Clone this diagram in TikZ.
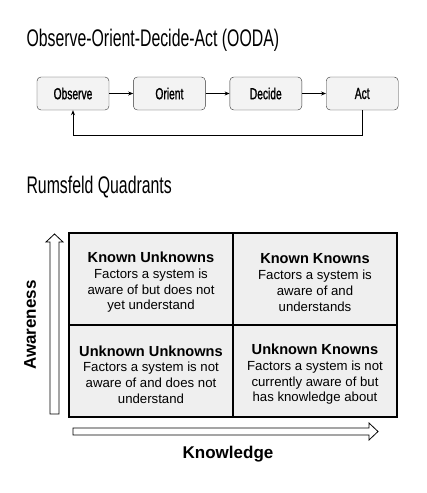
\documentclass[tikz,border=0pt]{standalone}
\usepackage{fontspec}
\setmainfont{Liberation Sans}
\newfontfamily\headfont[FakeStretch=0.66]{Liberation Sans}
\newfontfamily\stagefont[FakeStretch=0.64,FakeBold=1.2]{Liberation Sans}
\newcommand{\cellhead}[1]{\textbf{\fontsize{14.6}{15.6}\selectfont #1}}
\usetikzlibrary{positioning,arrows.meta}
\definecolor{boxgray}{HTML}{F3F3F3}
\definecolor{cellgray}{HTML}{EFEFEF}

\begin{document}
\begin{tikzpicture}[x=1pt,y=-1pt,
  stage/.style={draw=black!80,fill=boxgray,rounded corners=4pt,
    minimum width=72pt,minimum height=33pt,
    font=\stagefont\fontsize{16}{18}\selectfont},
  cell/.style={draw,line width=1.1pt,fill=cellgray,
    minimum width=164pt,minimum height=92pt},
  celltext/.style={align=center,yshift=-3.5pt,font=\fontsize{13.2}{15.7}\selectfont},
  flow/.style={-{Stealth[length=5pt,width=4pt]},line width=.8pt}]
  \useasboundingbox (0,0) rectangle (427,493);

  % OODA loop
  \node[anchor=base west,font=\headfont\fontsize{24}{28}\selectfont] (oodatitle) at (23,46.5) {Observe-Orient-Decide-Act (OODA)};
  \node[stage] (observe) at (73,93.5) {Observe};
  \node[stage,right=24pt of observe] (orient) {Orient};
  \node[stage,right=24pt of orient] (decide) {Decide};
  \node[stage,right=24pt of decide] (act) {Act};
  \draw[flow] (observe) -- (orient);
  \draw[flow] (orient) -- (decide);
  \draw[flow] (decide) -- (act);
  \draw[flow] (act.south) -- ++(0,25) -| (observe.south);

  % Rumsfeld quadrants
  \node[anchor=base west,font=\headfont\fontsize{24}{28}\selectfont] (rumtitle) at (23,193) {Rumsfeld Quadrants};
  \node[cell,label={[celltext]center:{\cellhead{Known Unknowns}\\Factors a system is\\aware of but does not\\yet understand}}] (ku) at (151,279) {};
  \node[cell,label={[celltext]center:{\cellhead{Known Knowns}\\Factors a system is\\aware of and\\understands}}] (kk) at (315,279) {};
  \node[cell,label={[celltext]center:{\cellhead{Unknown Unknowns}\\Factors a system is not\\aware of and does not\\understand}}] (uu) at (151,371) {};
  \node[cell,label={[celltext]center:{\cellhead{Unknown Knowns}\\Factors a system is not\\currently aware of but\\has knowledge about}}] (uk) at (315,371) {};

  % axes
  \draw[fill=white,line width=.8pt] (50,414) -- (50,242) -- (46,242) -- (54.5,234)
    -- (63,242) -- (59,242) -- (59,414) -- cycle;
  \draw[fill=white,line width=.8pt] (73,428) -- (369,428) -- (369,423) -- (378,431.5)
    -- (369,440) -- (369,435) -- (73,435) -- cycle;
  \node[rotate=90,font=\bfseries\fontsize{17}{20}\selectfont] (aware) at (30,325) {Awareness};
  \node[font=\bfseries\fontsize{17}{20}\selectfont] (know) at (228,454) {Knowledge};
\end{tikzpicture}
\end{document}
